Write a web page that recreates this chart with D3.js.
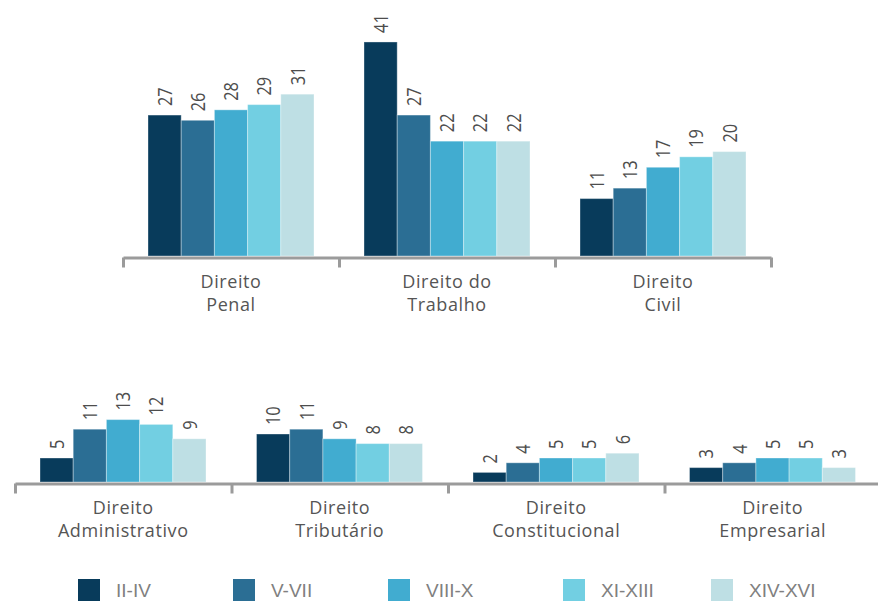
<!DOCTYPE html>
<head>
<meta charset="utf-8">
<script src="https://d3js.org/d3.v7.min.js"></script>
<style>
    body { margin: 0; background: #fff; }
    text { font-family: "Open Sans", sans-serif; }
    .axis path, .axis line { stroke: #9b9b9b; stroke-width: 3px; }
</style>
</head>
<body>
<svg></svg>
<script>
    var width = 878;
    var height = 601;

    // data
    var series = ["II-IV", "V-VII", "VIII-X", "XI-XIII", "XIV-XVI"];
    var colors = ["#083b5b", "#2b6e94", "#41acd0", "#72cfe2", "#bedfe4"];

    var topCategories = [["Direito", "Penal"], ["Direito do", "Trabalho"], ["Direito", "Civil"]];
    var topValues = [[27, 26, 28, 29, 31], [41, 27, 22, 22, 22], [11, 13, 17, 19, 20]];

    var bottomCategories = [["Direito", "Administrativo"], ["Direito", "Tributário"], ["Direito", "Constitucional"], ["Direito", "Empresarial"]];
    var bottomValues = [[5, 11, 13, 12, 9], [10, 11, 9, 8, 8], [2, 4, 5, 5, 6], [3, 4, 5, 5, 3]];

    var legendX = [78, 233, 388, 563, 711];

    var svg = d3.select("svg")
        .attr("width", width)
        .attr("height", height);

    function panel(cats, vals, x0, step, baseline, pxPerUnit, yMax) {
        var n = cats.length;
        var g = svg.append("g");

        var x = d3.scaleBand()
            .domain(d3.range(n))
            .range([x0, x0 + n * step]);

        var xs = d3.scaleBand()   // bars inside one group
            .domain(d3.range(series.length))
            .range([25, 25 + 166]);

        var y = d3.scaleLinear()
            .domain([0, yMax])
            .range([baseline, baseline - yMax * pxPerUnit]);

        var groups = g.selectAll(".grp")
            .data(vals)
            .enter().append("g")
            .attr("transform", function(d, i) { return "translate(" + x(i) + ",0)"; });

        groups.selectAll("rect")
            .data(function(d) { return d; })
            .enter().append("rect")
            .attr("x", function(d, j) { return xs(j); })
            .attr("width", xs.bandwidth())
            .attr("y", function(d) { return y(d); })
            .attr("height", function(d) { return baseline - y(d); })
            .style("fill", function(d, j) { return colors[j]; })
            .style("stroke", "rgba(255,255,255,0.35)")
            .style("stroke-width", 1);

        // rotated value labels, squeezed a bit along the text to look like the original face
        groups.selectAll(".val")
            .data(function(d) { return d; })
            .enter().append("text")
            .attr("transform", function(d, j) {
                return "translate(" + (xs(j) + xs.bandwidth() / 2) + "," + (y(d) - 9) + ") rotate(-90) scale(0.82,1)";
            })
            .attr("dy", "0.36em")
            .style("font-size", "20px")
            .style("fill", "#4d4d4d")
            .text(function(d) { return d; });

        // axis with ticks at the group boundaries
        var xb = d3.scaleLinear().domain([0, n]).range([x0, x0 + n * step]);
        g.append("g")
            .attr("class", "axis")
            .attr("transform", "translate(0," + (baseline + 1.5) + ")")
            .call(d3.axisBottom(xb).tickValues(d3.range(n + 1)).tickSize(10).tickSizeOuter(0).tickFormat(""));

        var labels = g.selectAll(".cat")
            .data(cats)
            .enter().append("text")
            .attr("text-anchor", "middle")
            .style("font-size", "18px")
            .style("letter-spacing", "0.6px")
            .style("fill", "#555");

        labels.selectAll("tspan")
            .data(function(d, i) { return d.map(function(s) { return { s: s, i: i }; }); })
            .enter().append("tspan")
            .attr("x", function(d) { return x(d.i) + step / 2; })
            .attr("y", function(d, k) { return baseline + 32 + k * 22.5; })
            .text(function(d) { return d.s; });
    }

    panel(topCategories, topValues, 123, 216, 256, 5.22, 41);
    panel(bottomCategories, bottomValues, 15, 216.5, 482, 4.8, 13);

    // **** LEGEND ****
    var legend = svg.selectAll(".leg")
        .data(series)
        .enter().append("g")
        .attr("transform", function(d, i) { return "translate(" + legendX[i] + ",579)"; });

    legend.append("rect")
        .attr("width", 22)
        .attr("height", 22)
        .style("fill", function(d, i) { return colors[i]; });

    legend.append("text")
        .attr("x", 38)
        .attr("y", 11)
        .attr("dy", "0.36em")
        .style("font-family", "'Liberation Sans', sans-serif")
        .style("font-size", "19px")
        .style("fill", "#808080")
        .text(function(d) { return d; });
</script>
</body>
